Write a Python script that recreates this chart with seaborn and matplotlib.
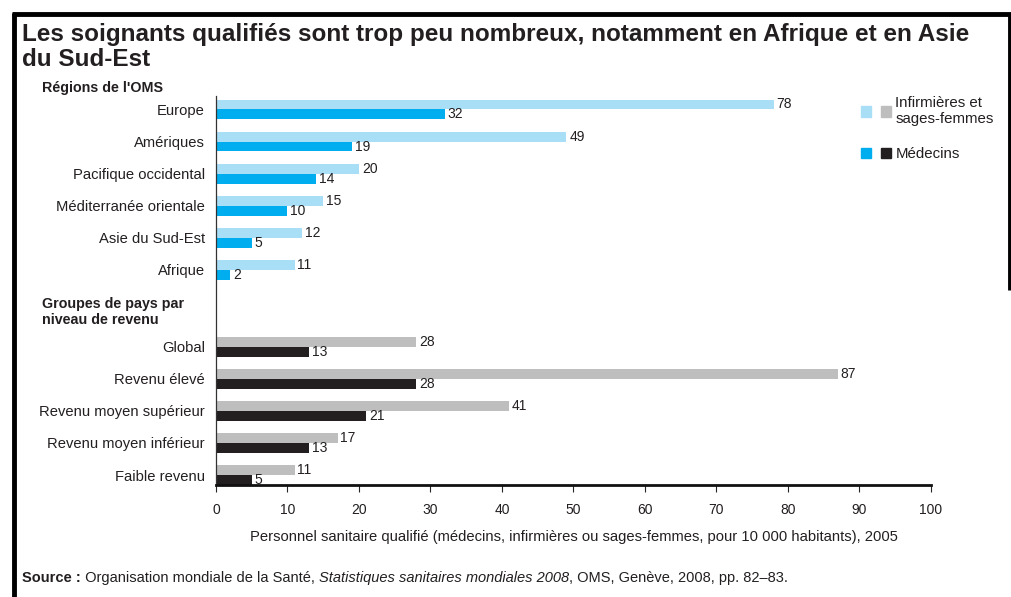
import numpy as np
import pandas as pd
import seaborn as sns
import matplotlib.pyplot as plt
from matplotlib.patches import Patch
from matplotlib.lines import Line2D
from matplotlib.legend_handler import HandlerTuple

regions = ['Europe', 'Amériques', 'Pacifique occidental', 'Méditerranée orientale',
           'Asie du Sud-Est', 'Afrique']
reg_nurses = [78, 49, 20, 15, 12, 11]
reg_doctors = [32, 19, 14, 10, 5, 2]

groups = ['Global', 'Revenu élevé', 'Revenu moyen supérieur', 'Revenu moyen inférieur',
          'Faible revenu']
grp_nurses = [28, 87, 41, 17, 11]
grp_doctors = [13, 28, 21, 13, 5]

series = ['Infirmières et sages-femmes', 'Médecins']
xticks = list(range(0, 101, 10))

# row positions: the income groups come after a gap
reg_pos = np.arange(len(regions))
grp_pos = np.arange(len(groups)) + len(regions) + 1.4

def long_df(pos, nurses, doctors):
    return pd.DataFrame({
        'pos': np.r_[pos, pos],
        'val': nurses + doctors,
        'serie': [series[0]] * len(pos) + [series[1]] * len(pos),
    })

df_reg = long_df(reg_pos, reg_nurses, reg_doctors)
df_grp = long_df(grp_pos, grp_nurses, grp_doctors)

W, H = 1012, 597
def px(x, y):
    return x / W, 1 - y / H

sns.set_style('white')
plt.rcParams['font.family'] = ['Liberation Sans', 'DejaVu Sans']
txt = '#231f20'

fig = plt.figure(figsize=(W / 100, H / 100), dpi=100)
ax = fig.add_axes([216 / W, 1 - 485 / H, (931 - 216) / W, (485 - 96) / H])

sns.barplot(data=df_reg, x='val', y='pos', hue='serie', hue_order=series,
            orient='y', native_scale=True, width=0.62, saturation=1, linewidth=0,
            palette=['#a9def7', '#00aeef'], legend=False, ax=ax)
sns.barplot(data=df_grp, x='val', y='pos', hue='serie', hue_order=series,
            orient='y', native_scale=True, width=0.62, saturation=1, linewidth=0,
            palette=['#bebebe', '#231f20'], legend=False, ax=ax)

for c in ax.containers:
    ax.bar_label(c, fmt='{:.0f}', padding=2, fontsize=10, color=txt)

ax.set_xlim(0, 100)
ax.set_xticks(xticks)
ax.set_ylim(grp_pos[-1] + 0.31, -0.42)
ax.set_yticks(np.r_[reg_pos, grp_pos], regions + groups)
ax.tick_params(axis='y', length=0, pad=8, labelsize=10.6, labelcolor=txt)
ax.tick_params(axis='x', length=5, width=0.8, direction='out', pad=8,
               labelsize=10, labelcolor=txt, bottom=True)
ax.set_ylabel('')
ax.set_xlabel('Personnel sanitaire qualifié (médecins, infirmières ou sages-femmes, '
              'pour 10 000 habitants), 2005', fontsize=10.6, color=txt, labelpad=9)
sns.despine(ax=ax, top=True, right=True)
ax.spines['left'].set_linewidth(0.9)
ax.spines['left'].set_color('#333333')
ax.spines['bottom'].set_linewidth(2)
ax.spines['bottom'].set_color('#111111')

# title and group headers
fig.text(*px(22, 23), 'Les soignants qualifiés sont trop peu nombreux, notamment en Afrique et en Asie\ndu Sud-Est',
         fontsize=17.5, fontweight='bold', color=txt, va='top', linespacing=1.12)
fig.text(*px(42, 88), "Régions de l'OMS", fontsize=10.3, fontweight='bold', color=txt, va='center')
fig.text(*px(42, 312), 'Groupes de pays par\nniveau de revenu', fontsize=10.3, fontweight='bold',
         color=txt, va='center', linespacing=1.2)

# legend with two swatches per entry
handles = [(Patch(color='#a9def7'), Patch(color='#bebebe')),
           (Patch(color='#00aeef'), Patch(color='#231f20'))]
fig.legend(handles, ['Infirmières et\nsages-femmes', 'Médecins'],
           handler_map={tuple: HandlerTuple(ndivide=None, pad=0.67)},
           loc='upper left', bbox_to_anchor=px(861, 96), frameon=False,
           fontsize=10.8, handlelength=2.0, handleheight=0.7, handletextpad=0.3,
           labelspacing=1.4, labelcolor=txt, borderpad=0, borderaxespad=0)

# source line: bold / regular / italic pieces
fig.canvas.draw()
r = fig.canvas.get_renderer()
x0, y0 = px(22, 578)
pieces = [('Source :', 'bold', 'normal'),
          (' Organisation mondiale de la Santé, ', 'normal', 'normal'),
          ('Statistiques sanitaires mondiales 2008', 'normal', 'italic'),
          (', OMS, Genève, 2008, pp. 82–83.', 'normal', 'normal')]
for s, w, st in pieces:
    t = fig.text(x0, y0, s, fontsize=10.5, fontweight=w, fontstyle=st, color=txt, va='center')
    bb = t.get_window_extent(r)
    x0 += bb.width / W

# frame lines
lw = 3.5
kw = dict(color='black', lw=lw, solid_capstyle='butt')
fig.add_artist(Line2D([14 / W, 14 / W], [0, 1 - 12.5 / H], **kw))
fig.add_artist(Line2D([12 / W, 1012 / W], [1 - 14 / H, 1 - 14 / H], **kw))
fig.add_artist(Line2D([1010 / W, 1010 / W], [1 - 12.5 / H, 1 - 290 / H], **kw))

fig.savefig('out.png', dpi=100)
